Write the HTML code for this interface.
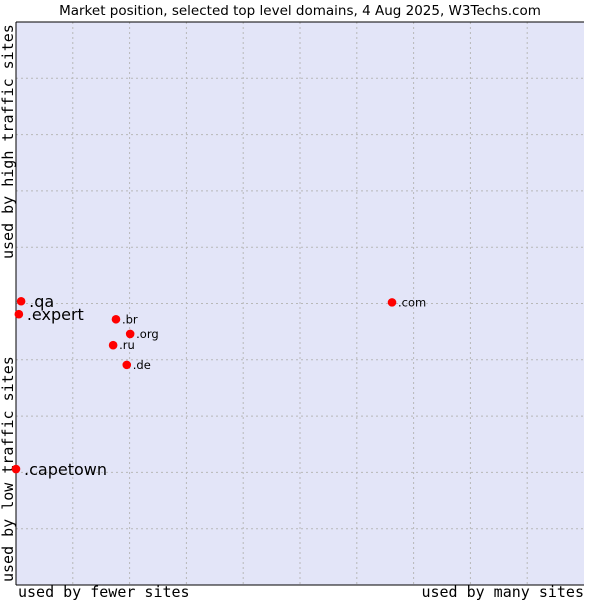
<!DOCTYPE html>
<html><head><meta charset="utf-8"><style>
body{margin:0;background:#fff;width:600px;height:600px;overflow:hidden}
svg{display:block}
</style></head><body>
<svg width="600" height="600" xmlns="http://www.w3.org/2000/svg">
<text x="300" y="15" text-anchor="middle" font-family="DejaVu Sans, sans-serif" font-size="13.5" fill="#000">Market position, selected top level domains, 4 Aug 2025, W3Techs.com</text>
<rect x="16" y="22" width="568" height="563" fill="#e3e5f8"/>
<g id="grid"></g>
<line x1="16" y1="22" x2="584" y2="22" stroke="#000"/>
<line x1="16" y1="22" x2="16" y2="585" stroke="#000"/>
<line x1="16" y1="585" x2="584" y2="585" stroke="#000"/>
<text x="18" y="597" font-family="DejaVu Sans Mono, monospace" font-size="15">used by fewer sites</text>
<text x="584" y="597" text-anchor="end" font-family="DejaVu Sans Mono, monospace" font-size="15">used by many sites</text>
<text transform="translate(13,259) rotate(-90)" font-family="DejaVu Sans Mono, monospace" font-size="15">used by high traffic sites</text>
<text transform="translate(13,582) rotate(-90)" font-family="DejaVu Sans Mono, monospace" font-size="15">used by low traffic sites</text>
<g id="points"></g>
</svg>
<script>
const domains=[".qa",".expert",".capetown",".br",".org",".ru",".de",".com"];
const xValues=[0.9,0.5,0,17.6,20.1,17.1,19.5,66.2];
const yValues=[50.4,48.1,20.6,47.2,44.6,42.6,39.1,50.2];
const labelBig=[true,true,true,false,false,false,false,false];
const NS="http://www.w3.org/2000/svg";
const X0=16,X1=584,Y0=585,Y1=22;
function sx(v){return X0+(X1-X0)*v/100;}
function sy(v){return Y0-(Y0-Y1)*v/100;}
const grid=document.getElementById('grid');
for(let i=1;i<10;i++){
  const lx=document.createElementNS(NS,'line');
  
  
  lx.setAttribute('x1',sx(i*10));lx.setAttribute('x2',sx(i*10));lx.setAttribute('y1',Y1);lx.setAttribute('y2',Y0);
  lx.setAttribute('stroke','#b8b8b8');lx.setAttribute('stroke-dasharray','2,3');
  grid.appendChild(lx);
  const ly=document.createElementNS(NS,'line');
  
  
  ly.setAttribute('y1',sy(i*10));ly.setAttribute('y2',sy(i*10));ly.setAttribute('x1',X0);ly.setAttribute('x2',X1);
  ly.setAttribute('stroke','#b8b8b8');ly.setAttribute('stroke-dasharray','2,3');
  grid.appendChild(ly);
}
const pts=document.getElementById('points');
domains.forEach((d,i)=>{
  const cx=sx(xValues[i]),cy=sy(yValues[i]);
  const c=document.createElementNS(NS,'circle');
  
  
  c.setAttribute('cx',cx);c.setAttribute('cy',cy);c.setAttribute('r',4.3);c.setAttribute('fill','#f00');
  pts.appendChild(c);
  const t=document.createElementNS(NS,'text');
  
  
  t.setAttribute('x',cx+(labelBig[i]?8:6));
  t.setAttribute('y',cy+(labelBig[i]?6:4));
  t.setAttribute('font-family','DejaVu Sans, sans-serif');
  t.setAttribute('font-size',labelBig[i]?16:11.5);
  t.textContent=d;
  pts.appendChild(t);
});
</script>
</body></html>
